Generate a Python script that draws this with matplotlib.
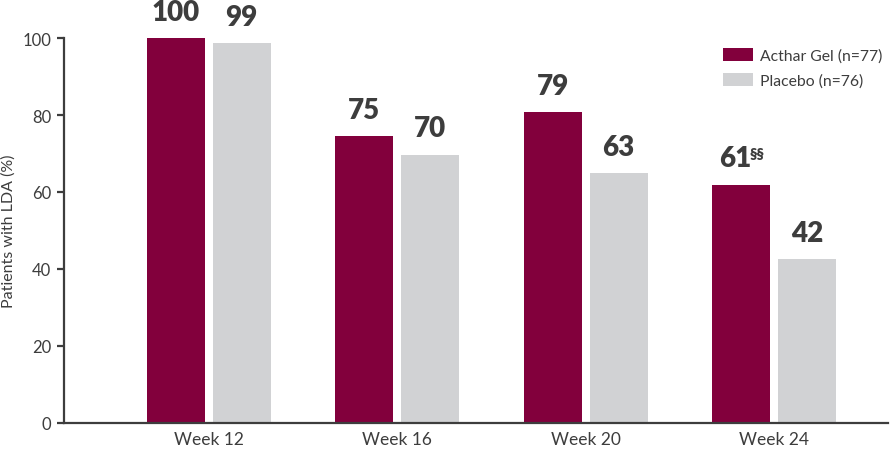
import matplotlib.pyplot as plt
import numpy as np

plt.rcParams["font.family"] = ["Lato", "DejaVu Sans"]

# Data
weeks = ["Week 12", "Week 16", "Week 20", "Week 24"]
acthar = [100, 74.5, 80.8, 61.9]
placebo = [98.7, 69.7, 64.9, 42.6]
acthar_labels = ["100", "75", "79", "61"]
placebo_labels = ["99", "70", "63", "42"]

maroon = "#82003c"
grey = "#d1d2d4"
dark = "#3d3d3d"

fig = plt.figure(figsize=(8.9, 4.52), dpi=100)
ax = fig.add_axes([0.0719, 0.062, 0.9261, 0.8517])

x = np.arange(len(weeks))
w = 0.308
off = 0.175
ax.bar(x - off, acthar, w, color=maroon, label="Acthar Gel (n=77)", clip_on=False)
ax.bar(x + off, placebo, w, color=grey, label="Placebo (n=76)", clip_on=False)

for i in range(len(weeks)):
    dx = -4.5 if i == 3 else 0
    ax.annotate(acthar_labels[i], xy=(x[i] - off, acthar[i]), xytext=(dx, 9.5),
                textcoords="offset points", ha="center", va="bottom",
                fontsize=20, fontweight="heavy", color=dark)
    ax.annotate(placebo_labels[i], xy=(x[i] + off, placebo[i]), xytext=(0, 9.5),
                textcoords="offset points", ha="center", va="bottom",
                fontsize=20, fontweight="heavy", color=dark)

# footnote marker on week 24
ax.annotate("§§", xy=(x[3] - off, acthar[3]), xytext=(6.3, 17.5),
            textcoords="offset points", ha="left", va="bottom",
            fontsize=10.5, fontweight="heavy", color=dark)

ax.set_xlim(-0.767, 3.605)
ax.set_ylim(0, 100)
ax.set_yticks([0, 20, 40, 60, 80, 100])
ax.set_xticks(x)
ax.set_xticklabels(weeks)
ax.set_ylabel("Patients with LDA (%)", fontsize=11.5, color=dark)
ax.yaxis.set_label_coords(-0.058, 0.5)

for s in ["top", "right"]:
    ax.spines[s].set_visible(False)
for s in ["left", "bottom"]:
    ax.spines[s].set_color(dark)
    ax.spines[s].set_linewidth(1.6)
ax.tick_params(axis="y", length=5, width=1.6, color=dark, labelsize=12, labelcolor=dark, pad=4)
ax.tick_params(axis="x", length=0, labelsize=12.5, labelcolor=dark, pad=6)

ax.legend(loc="upper left", bbox_to_anchor=(0.783, 1.01), frameon=False, fontsize=11.3,
          handlelength=1.9, handleheight=0.9, handletextpad=0.45, labelspacing=0.6,
          labelcolor=dark)

fig.savefig("out.png", dpi=100)
